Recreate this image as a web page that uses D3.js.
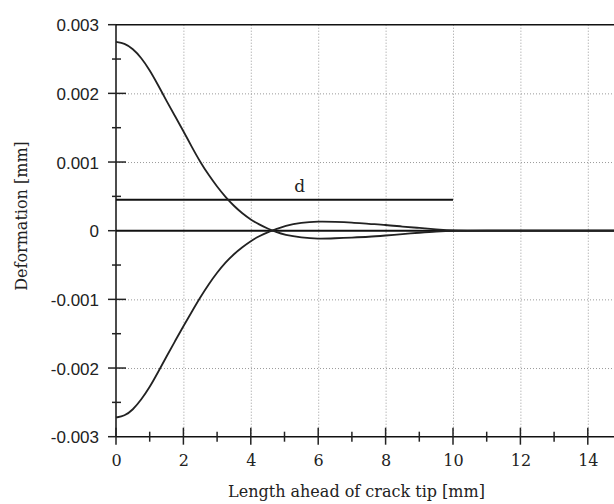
<!DOCTYPE html>
<html>
<head>
<meta charset="utf-8">
<script src="https://cdn.jsdelivr.net/npm/d3@7"></script>
<style>
  html, body { margin: 0; padding: 0; background: #fff; overflow: hidden; }
  svg { display: block; }
</style>
</head>
<body>
<svg id="chart" width="614" height="504"></svg>
<script>
// ---- data ----
const xValues = [0, 0.25, 0.5, 0.75, 1, 1.25, 1.5, 1.75, 2, 2.25, 2.5, 2.75, 3, 3.25, 3.5, 3.75, 4, 4.25, 4.5, 4.75, 5, 5.5, 6, 6.5, 7, 7.5, 8, 8.5, 9, 9.5, 10, 11, 12, 13, 14, 15];
const upperSeries = [0.00275, 0.00273, 0.00265, 0.00252, 0.00234, 0.00212, 0.00189, 0.00167, 0.00145, 0.00122, 0.00100, 0.00081, 0.00064, 0.00049, 0.00036, 0.00025, 0.00016, 0.00009, 0.00003, -0.00002, -0.00006, -0.00010, -0.00012, -0.00011, -0.00010, -0.00009, -0.00007, -0.00005, -0.00003, -0.00001, 0, 0, 0, 0, 0, 0];
const lowerSeries = [-0.00272, -0.00270, -0.00261, -0.00246, -0.00228, -0.00206, -0.00183, -0.00161, -0.00139, -0.00118, -0.00097, -0.00078, -0.00061, -0.00046, -0.00034, -0.00024, -0.00015, -0.00008, -0.00002, 0.00002, 0.00007, 0.00012, 0.000135, 0.00013, 0.00012, 0.00010, 0.000085, 0.00006, 0.00004, 0.00002, 0, 0, 0, 0, 0, 0];
const dLevel = 0.00045;
const dExtent = [0, 10];
const dLabel = "d";
const xTickValues = [0, 2, 4, 6, 8, 10, 12, 14];
const xMinorTicks = [1, 3, 5, 7, 9, 11, 13];
const yTickValues = [0.003, 0.002, 0.001, 0, -0.001, -0.002, -0.003];
const yTickLabels = ["0.003", "0.002", "0.001", "0", "-0.001", "-0.002", "-0.003"];
const yMinorTicks = [0.0025, 0.0015, 0.0005, -0.0005, -0.0015, -0.0025];
const xGrid = [2, 4, 6, 8, 10, 12, 14];
const yGrid = [0.002, 0.001, -0.001, -0.002];
const xTitle = "Length ahead of crack tip [mm]";
const yTitle = "Deformation [mm]";

// ---- scales ----
const svg = d3.select("#chart");
const x = d3.scaleLinear().domain([0, 15]).range([116, 621.5]);
const y = d3.scaleLinear().domain([-0.003, 0.003]).range([436.7, 24.7]);
const serif = "'DejaVu Serif', serif";
const sans = "'Liberation Sans', Arial, sans-serif";
const W = 614;

// grid
const grid = svg.append("g").attr("stroke", "#9a9a9a").attr("stroke-width", 1).attr("stroke-dasharray", "1,2");
grid.selectAll("line.vx").data(xGrid).join("line")
  .attr("x1", d => x(d) + 0.5).attr("x2", d => x(d) + 0.5)
  .attr("y1", y(0.003)).attr("y2", y(-0.003));
grid.selectAll("line.hy").data(yGrid).join("line")
  .attr("x1", x(0)).attr("x2", W)
  .attr("y1", d => y(d) + 0.5).attr("y2", d => y(d) + 0.5);

// frame lines
const frame = svg.append("g").attr("stroke", "#111").attr("fill", "none");
frame.append("line").attr("x1", x(0)).attr("x2", W).attr("y1", y(0.003)).attr("y2", y(0.003)).attr("stroke-width", 1.5);
frame.append("line").attr("x1", x(0)).attr("x2", W).attr("y1", y(-0.003)).attr("y2", y(-0.003)).attr("stroke-width", 1.5);
frame.append("line").attr("x1", x(0)).attr("x2", x(0)).attr("y1", y(0.003)).attr("y2", y(-0.003)).attr("stroke-width", 1.5);
frame.append("line").attr("x1", x(0)).attr("x2", W).attr("y1", y(0)).attr("y2", y(0)).attr("stroke-width", 2);

// y axis labels via d3 axis
const yAxis = d3.axisLeft(y).tickValues(yTickValues).tickSize(0).tickPadding(0)
  .tickFormat((d, i) => yTickLabels[i]);
const gy = svg.append("g").attr("transform", `translate(${x(0) - 17},0)`).call(yAxis);
gy.select(".domain").remove();
gy.selectAll("text").attr("font-family", sans).attr("font-size", 17).attr("fill", "#222").attr("dy", "0.36em");

// x axis labels via d3 axis
const xAxis = d3.axisBottom(x).tickValues(xTickValues).tickSize(0).tickPadding(0).tickFormat(d3.format("d"));
const gx = svg.append("g").attr("transform", `translate(0,${y(-0.003) + 18})`).call(xAxis);
gx.select(".domain").remove();
gx.selectAll("text").attr("font-family", serif).attr("font-size", 16).attr("fill", "#222").attr("dy", "0.71em");

// ticks (crossing the axes)
const ticks = svg.append("g").attr("stroke", "#222").attr("stroke-width", 1.5);
ticks.selectAll("line.ym").data(yTickValues).join("line")
  .attr("x1", x(0) - 8).attr("x2", d => (d === 0.003 || d === -0.003 || d === 0) ? x(0) : x(0) + 10)
  .attr("y1", d => y(d)).attr("y2", d => y(d));
ticks.selectAll("line.yn").data(yMinorTicks).join("line")
  .attr("x1", x(0) - 4).attr("x2", x(0) + 5)
  .attr("y1", d => y(d)).attr("y2", d => y(d));
ticks.selectAll("line.xm").data(xTickValues).join("line")
  .attr("x1", d => x(d)).attr("x2", d => x(d))
  .attr("y1", y(-0.003) - 9).attr("y2", y(-0.003) + 8);
ticks.selectAll("line.xn").data(xMinorTicks).join("line")
  .attr("x1", d => x(d)).attr("x2", d => x(d))
  .attr("y1", y(-0.003) - 5).attr("y2", y(-0.003) + 5);

// d line
svg.append("line")
  .attr("x1", x(dExtent[0])).attr("x2", x(dExtent[1]))
  .attr("y1", y(dLevel)).attr("y2", y(dLevel))
  .attr("stroke", "#111").attr("stroke-width", 2);
svg.append("text").attr("x", x(5.45)).attr("y", y(dLevel) - 8)
  .attr("text-anchor", "middle").attr("font-family", serif).attr("font-size", 17).attr("fill", "#222")
  .text(dLabel);

// curves
const line = d3.line().x(d => x(d[0])).y(d => y(d[1])).curve(d3.curveBasis);
[upperSeries, lowerSeries].forEach(s => {
  svg.append("path")
    .datum(xValues.map((v, i) => [v, s[i]]))
    .attr("d", line)
    .attr("fill", "none").attr("stroke", "#222").attr("stroke-width", 1.8);
});

// titles
svg.append("text").attr("x", 356.5).attr("y", 497)
  .attr("text-anchor", "middle").attr("font-family", serif).attr("font-size", 16).attr("fill", "#222")
  .text(xTitle);
svg.append("text").attr("transform", "translate(27,216) rotate(-90)")
  .attr("text-anchor", "middle").attr("font-family", serif).attr("font-size", 16).attr("fill", "#222")
  .text(yTitle);
</script>
</body>
</html>
